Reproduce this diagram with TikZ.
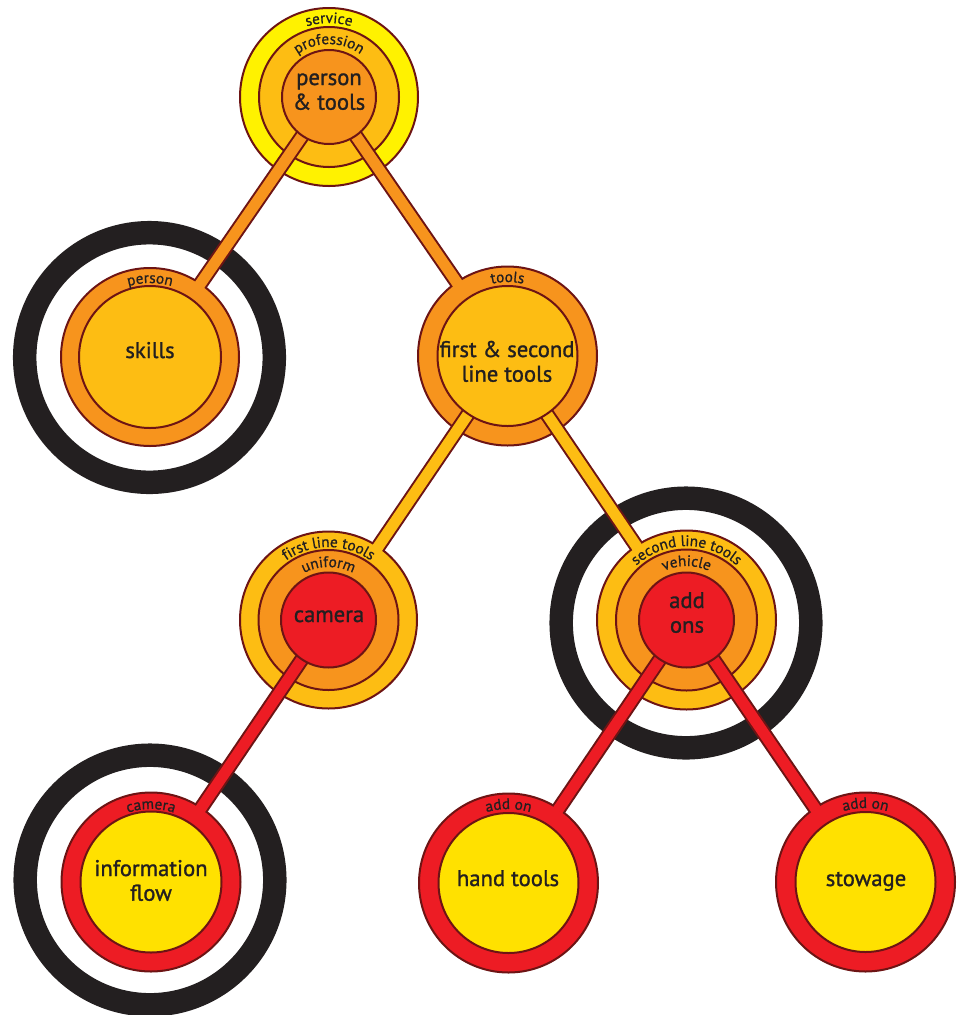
\documentclass[tikz,border=0pt]{standalone}
\usepackage{fontspec}
\setmainfont{PT Sans}
\newfontfamily\mainface{PT Sans}[FakeBold=1.2]
\newfontfamily\lblface{PT Sans}[FakeBold=0.8]
\usetikzlibrary{decorations.text,calc}
\definecolor{yel}{HTML}{FFF200}
\definecolor{yeltwo}{HTML}{FFE100}
\definecolor{gold}{HTML}{FDBD13}
\definecolor{orng}{HTML}{F7941D}
\definecolor{cred}{HTML}{ED1C24}
\definecolor{edge}{HTML}{6D1414}
\definecolor{ink}{HTML}{231F20}
\newcommand\mainfnt{\mainface\fontsize{17pt}{18.5pt}\selectfont}
\newcommand\lblfnt{\lblface\fontsize{11.4pt}{13pt}\selectfont}
\newcommand\twolines[2]{\begin{tabular}[t]{@{}c@{}}#1\\#2\end{tabular}}
\newcommand\arclabel[3]{\path[decorate,decoration={text along path,text align=center,text color=ink,text={|\lblfnt|#3}}] (#1.center) ++(180:#2) arc[start angle=180,end angle=0,radius=#2];}
\renewcommand\arraystretch{1}
\begin{document}
\begin{tikzpicture}[x=0.75pt,y=0.75pt]
\tikzset{
  disk/.style 2 args={circle, draw=edge, line width=1.5pt, fill=#1, inner sep=0pt, outer sep=0pt, minimum size=#2*1.5pt},
  targetring/.style={circle, draw=ink, line width=17.6pt, inner sep=0pt, outer sep=0pt, minimum size=187.2pt},
  barline/.style={line width=11.25pt, draw=edge},
  barfill/.style={line width=8.25pt, draw=#1, shorten >=-1.5pt},
  mainlbl/.style={font=\mainfnt, text=ink, anchor=base, inner sep=0pt, outer sep=0pt}
}
\useasboundingbox (0,0) rectangle (959,-1015);
% black target rings
\node[targetring] (skillsring) at (149.5,-357.5) {};
\node[targetring] (addring) at (686,-623) {};
\node[targetring] (inforing) at (150,-880) {};
% outer and middle rings
\node[disk={yel}{89}] (top) at (329,-97) {};
\node[disk={gold}{70}] (topmid) at (top.center) {};
\node[disk={orng}{89}] (skills) at (150,-357) {};
\node[disk={orng}{89.5}] (fst) at (507.5,-356) {};
\node[disk={gold}{88.5}] (cam) at (328.5,-620) {};
\node[disk={orng}{70}] (cammid) at (cam.center) {};
\node[disk={gold}{89.5}] (add) at (686.5,-620) {};
\node[disk={orng}{70.5}] (addmid) at (add.center) {};
\node[disk={cred}{89.5}] (info) at (151,-882) {};
\node[disk={cred}{89.5}] (hand) at (508.5,-883) {};
\node[disk={cred}{89.5}] (stow) at (865.5,-882) {};
% connectors
\foreach \p/\c/\col in {top/skills/orng, top/fst/orng, fst/cam/gold, fst/add/gold, cam/info/cred, add/hand/cred, add/stow/cred} {
  \draw[barline] (\p.center) -- (\c);
  \draw[barfill=\col] (\p.center) -- (\c);
}
% inner disks
\node[disk={orng}{47}] (topin) at (top.center) {};
\node[disk={gold}{71}] (skillsin) at (skills.center) {};
\node[disk={gold}{70}] (fstin) at (fst.center) {};
\node[disk={cred}{47.5}] (camin) at (cam.center) {};
\node[disk={cred}{47.5}] (addin) at (add.center) {};
\node[disk={yeltwo}{70.5}] (infoin) at (info.center) {};
\node[disk={yeltwo}{70}] (handin) at (hand.center) {};
\node[disk={yeltwo}{70}] (stowin) at (stow.center) {};
% ring labels
\arclabel{top}{74}{service}
\arclabel{top}{53}{profession}
\arclabel{skills}{74}{person}
\arclabel{fst}{74}{tools}
\arclabel{cam}{73}{first line tools}
\arclabel{cam}{53}{uniform}
\arclabel{add}{74}{second line tools}
\arclabel{add}{54}{vehicle}
\arclabel{info}{73}{camera}
\arclabel{hand}{74}{add on}
\arclabel{stow}{74}{add on}
% main labels
\node[mainlbl] (toplbl) at (329,-85) {\twolines{person}{\& tools}};
\node[mainlbl] (skillslbl) at (150,-358) {skills};
\node[mainlbl] (fstlbl) at (507,-357) {\twolines{first \& second}{line tools}};
\node[mainlbl] (camlbl) at (329,-622) {camera};
\node[mainlbl] (addlbl) at (687,-608) {\twolines{add}{ons}};
\node[mainlbl] (infolbl) at (151,-876) {\twolines{information}{flow}};
\node[mainlbl] (handlbl) at (508,-886) {hand tools};
\node[mainlbl] (stowlbl) at (866,-886) {stowage};
\end{tikzpicture}
\end{document}
